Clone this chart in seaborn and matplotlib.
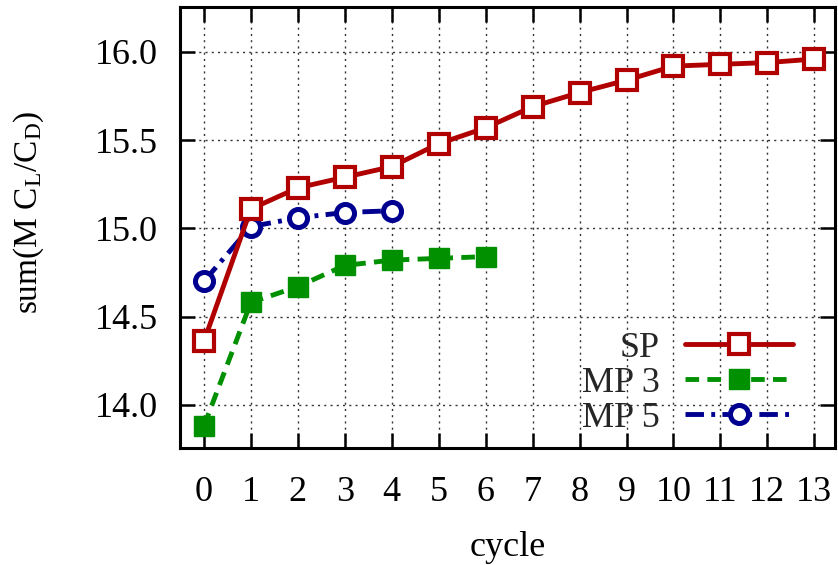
import matplotlib
matplotlib.use("Agg")
import matplotlib.pyplot as plt
import seaborn as sns
import pandas as pd

# Optimisation history: summed lift-to-drag per cycle
cycles_sp = list(range(14))
sp_values = [14.36, 15.11, 15.23, 15.29, 15.35, 15.48, 15.57, 15.69, 15.77,
             15.84, 15.92, 15.93, 15.94, 15.96]
cycles_mp3 = list(range(7))
mp3_values = [13.88, 14.58, 14.67, 14.79, 14.82, 14.83, 14.84]
cycles_mp5 = list(range(5))
mp5_values = [14.70, 15.01, 15.06, 15.09, 15.10]

x_ticks = list(range(14))
y_ticks = [14.0, 14.5, 15.0, 15.5, 16.0]

sns.set_theme(style="white")
plt.rcParams["font.family"] = ["Liberation Serif", "DejaVu Serif"]
plt.rcParams["mathtext.fontset"] = "custom"
plt.rcParams["mathtext.rm"] = "Liberation Serif"
plt.rcParams["mathtext.it"] = "Liberation Serif:italic"

fig, ax = plt.subplots(figsize=(8.38, 5.65), dpi=100)
fig.subplots_adjust(left=0.2148, right=0.9964, top=0.9876, bottom=0.2071)

df_sp = pd.DataFrame({"cycle": cycles_sp, "value": sp_values})
df_mp3 = pd.DataFrame({"cycle": cycles_mp3, "value": mp3_values})
df_mp5 = pd.DataFrame({"cycle": cycles_mp5, "value": mp5_values})

lw = 3.5
sns.lineplot(data=df_sp, x="cycle", y="value", ax=ax, color="#b00000",
             linewidth=lw, marker="s", markersize=14.5, markerfacecolor="white",
             markeredgecolor="#b00000", markeredgewidth=3.0, label="SP",
             zorder=5)
sns.lineplot(data=df_mp3, x="cycle", y="value", ax=ax, color="#009000",
             linewidth=lw, marker="s", markersize=14, markerfacecolor="#009000",
             markeredgecolor="#009000", markeredgewidth=1,
             linestyle=(0, (2.8, 1.7)), label="MP 3", zorder=4)
sns.lineplot(data=df_mp5, x="cycle", y="value", ax=ax, color="#000090",
             linewidth=lw, marker="o", markersize=13, markerfacecolor="white",
             markeredgecolor="#000090", markeredgewidth=3.6,
             linestyle=(0, (3.8, 1.5, 0.8, 1.5)), label="MP 5", zorder=4)

ax.set_xlim(-0.51, 13.44)
ax.set_ylim(13.755, 16.255)
ax.set_xticks(x_ticks)
ax.set_yticks(y_ticks)
ax.set_xticklabels([str(t) for t in x_ticks])
ax.set_yticklabels([f"{t:.1f}" for t in y_ticks])

ax.grid(True, color="0.2", linestyle=(0, (1.5, 3)), linewidth=1.0)
ax.set_axisbelow(True)

for s in ax.spines.values():
    s.set_visible(True)
    s.set_color("black")
    s.set_linewidth(2.2)

ax.tick_params(axis="both", which="major", direction="in", length=11,
               width=1.8, color="black", labelsize=26, labelcolor="black",
               top=True, right=True, bottom=True, left=True)
ax.tick_params(axis="y", pad=16)
ax.tick_params(axis="x", pad=20)

ax.set_xlabel("cycle", fontsize=26, labelpad=16, color="black")
ax.set_ylabel(r"sum(M C$_{\mathrm{L}}$/C$_{\mathrm{D}}$)", fontsize=24,
              color="black")
ax.yaxis.set_label_coords(-0.204, 0.535)

leg = ax.legend(loc="lower right", bbox_to_anchor=(0.936, 0.03),
                markerfirst=False, frameon=False, fontsize=26,
                handlelength=3.0, handletextpad=0.7, labelspacing=0.05,
                borderaxespad=0.0, borderpad=0.0, numpoints=1)

fig.savefig("out.png", dpi=100)
